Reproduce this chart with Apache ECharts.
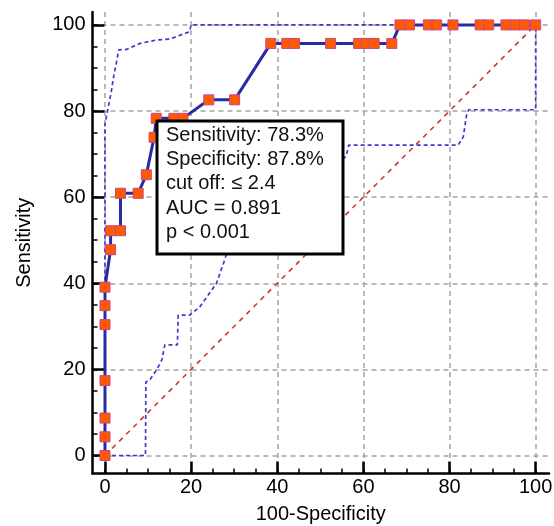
<!DOCTYPE html>
<html>
<head>
<meta charset="utf-8">
<script src="https://cdn.jsdelivr.net/npm/echarts/dist/echarts.min.js"></script>
<style>
html,body{margin:0;padding:0;background:#fff;}
#chart{width:554px;height:526px;}
</style>
</head>
<body>
<div id="chart"></div>
<script>
// ROC curve (100-Specificity, Sensitivity)
const rocX = [0, 0, 0, 0, 0, 0, 0, 1.3, 1.3, 3.6, 3.6, 7.7, 9.6, 11.4, 11.9, 16.0, 18.1, 24.1, 30.1, 38.5, 42.2, 44.0, 52.4, 58.9, 60.7, 62.5, 66.6, 68.5, 70.7, 75.1, 77.0, 80.8, 87.1, 89.1, 93.1, 95.3, 97.4, 100];
const rocY = [0, 4.35, 8.7, 17.4, 30.4, 34.8, 39.1, 47.8, 52.2, 52.2, 60.9, 60.9, 65.2, 73.9, 78.3, 78.3, 78.3, 82.6, 82.6, 95.7, 95.7, 95.7, 95.7, 95.7, 95.7, 95.7, 95.7, 100, 100, 100, 100, 100, 100, 100, 100, 100, 100, 100];
// Upper confidence bound
const upperX = [0, 0, 1.5, 1.9, 2.7, 3.2, 5.0, 8.1, 12.0, 15.0, 19.6, 20.0, 100];
const upperY = [0, 77, 84.7, 87.4, 91.5, 94.2, 94.3, 95.7, 96.5, 96.7, 98.4, 100, 100];
// Lower confidence bound
const lowerX = [0, 9.4, 9.5, 10.3, 12.0, 13.2, 13.9, 16.8, 17.0, 19.7, 22.0, 25.9, 27.5, 28.3, 56.0, 56.6, 82.0, 83.2, 84.0, 84.5, 100, 100];
const lowerY = [0, 0, 17.1, 17.4, 19.9, 22.2, 25.7, 25.7, 32.6, 32.6, 34.5, 40.0, 44.6, 47.0, 69.5, 72.1, 72.1, 74.0, 79.4, 80.3, 80.3, 100];
// Reference diagonal
const diagX = [0, 100];
const diagY = [0, 100];
// Ticks
const majorTicks = [0, 20, 40, 60, 80, 100];
const minorTicks = [0, 5, 10, 15, 20, 25, 30, 35, 40, 45, 50, 55, 60, 65, 70, 75, 80, 85, 90, 95, 100];
const xTitle = '100-Specificity';
const yTitle = 'Sensitivity';
const noteLines = ['Sensitivity: 78.3%', 'Specificity: 87.8%', 'cut off: \u2264 2.4', 'AUC = 0.891', 'p < 0.001'];

const FONT = "'Liberation Sans', Arial, Helvetica, sans-serif";
const pairs = (xs, ys) => xs.map((x, i) => [x, ys[i]]);

const X_MIN = -2.9, X_MAX = 103.1, Y_MIN = -4.2, Y_MAX = 103;

function majorAxis(isX) {
  return {
    type: 'value',
    min: isX ? X_MIN : Y_MIN,
    max: isX ? X_MAX : Y_MAX,
    position: isX ? 'bottom' : 'left',
    axisLine: { show: true, onZero: false, lineStyle: { color: '#000', width: 2.5 } },
    axisTick: { show: true, inside: true, length: 12, customValues: majorTicks, lineStyle: { color: '#000', width: 2.5 } },
    axisLabel: { show: true, customValues: majorTicks, fontSize: 20, color: '#000', fontFamily: FONT, margin: isX ? 4 : 7 },
    splitLine: { show: true, lineStyle: { color: '#a3a3a3', width: 1.5, type: [5, 4] } },
    name: isX ? xTitle : yTitle,
    nameLocation: 'middle',
    nameGap: isX ? 31 : 58,
    nameTextStyle: { fontSize: 20, color: '#000', fontFamily: FONT }
  };
}
function minorAxis(isX) {
  return {
    type: 'value',
    min: isX ? X_MIN : Y_MIN,
    max: isX ? X_MAX : Y_MAX,
    position: isX ? 'bottom' : 'left',
    axisLine: { show: false, onZero: false },
    axisTick: { show: true, inside: true, length: 5, customValues: minorTicks, lineStyle: { color: '#000', width: 1.5 } },
    axisLabel: { show: false },
    splitLine: { show: false }
  };
}

const chart = echarts.init(document.getElementById('chart'), null, { renderer: 'canvas' });
const noteTop = 121, noteLeft = 157, noteW = 186, noteH = 133;
const lineYs = [135.3, 159.7, 183.5, 208, 232.3];

chart.setOption({
  animation: false,
  backgroundColor: '#fff',
  textStyle: { fontFamily: FONT },
  grid: { left: 92.5, right: 5, top: 12, bottom: 52.4, containLabel: false, outerBoundsMode: 'none' },
  xAxis: [majorAxis(true), minorAxis(true)],
  yAxis: [majorAxis(false), minorAxis(false)],
  series: [
    {
      type: 'line', data: pairs(diagX, diagY), symbol: 'none', z: 2,
      lineStyle: { color: '#d03535', width: 1.6, type: [5, 5] }
    },
    {
      type: 'line', data: pairs(upperX, upperY), symbol: 'none', z: 3,
      lineStyle: { color: '#3b3bc8', width: 1.7, type: [4, 3] }
    },
    {
      type: 'line', data: pairs(lowerX, lowerY), symbol: 'none', z: 3,
      lineStyle: { color: '#3b3bc8', width: 1.7, type: [4, 3] }
    },
    {
      type: 'line', data: pairs(rocX, rocY), z: 5,
      symbol: 'rect', symbolSize: 10, showAllSymbol: true,
      lineStyle: { color: '#2a2aa2', width: 3 },
      itemStyle: { color: '#ff5a00', borderColor: '#c8468c', borderWidth: 1 }
    }
  ],
  graphic: [
    {
      type: 'rect', z: 100,
      shape: { x: noteLeft, y: noteTop, width: noteW, height: noteH },
      style: { fill: '#fff', stroke: '#000', lineWidth: 3 }
    }
  ].concat(noteLines.map((t, i) => ({
    type: 'text', z: 101,
    x: 166, y: lineYs[i],
    style: { text: t, fill: '#111', font: '20px ' + FONT, verticalAlign: 'middle', textVerticalAlign: 'middle', align: 'left' }
  })))
});
</script>
</body>
</html>
